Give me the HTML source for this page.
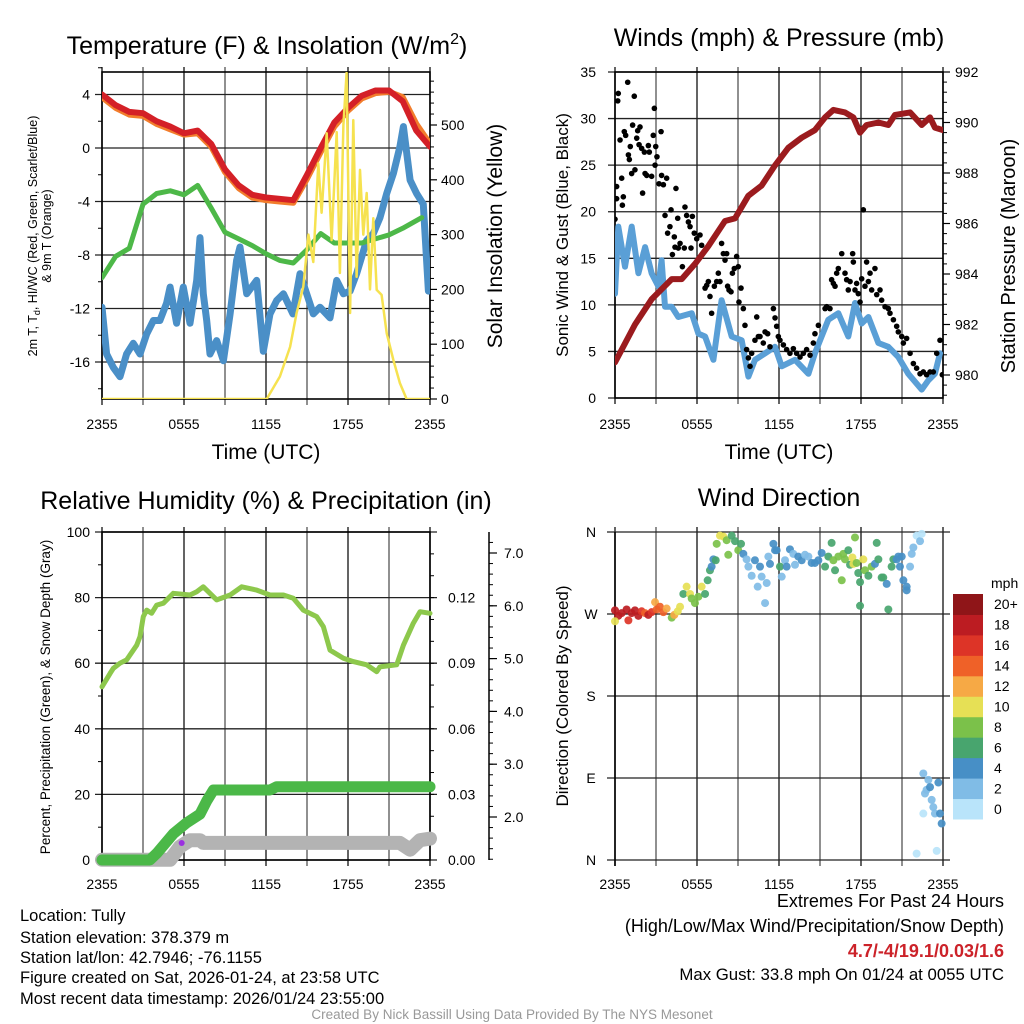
<!DOCTYPE html>
<html><head><meta charset="utf-8"><style>
body{margin:0;background:#fff;}
svg{display:block;font-family:"Liberation Sans",sans-serif;}
</style></head><body>
<svg id="c" width="1024" height="1024" viewBox="0 0 1024 1024">
<defs>
<clipPath id="cp1"><rect x="102" y="72" width="328" height="327"/></clipPath>
<clipPath id="cp2"><rect x="615" y="72" width="328" height="326"/></clipPath>
<clipPath id="cp3"><rect x="92" y="522" width="348" height="348"/></clipPath>
</defs>
<text x="267" y="54" font-size="25" text-anchor="middle">Temperature (F) &amp; Insolation (W/m<tspan font-size="16" dy="-10">2</tspan><tspan dy="10">)</tspan></text>
<text x="779" y="46" font-size="25" text-anchor="middle">Winds (mph) &amp; Pressure (mb)</text>
<text x="266" y="509" font-size="25" text-anchor="middle">Relative Humidity (%) &amp; Precipitation (in)</text>
<text x="779" y="506" font-size="25" text-anchor="middle">Wind Direction</text>
<text x="266" y="459" font-size="21" text-anchor="middle">Time (UTC)</text>
<text x="779" y="459" font-size="21" text-anchor="middle">Time (UTC)</text>
<g transform="translate(37,236) rotate(-90)"><text x="0" y="0" font-size="12.5" text-anchor="middle">2m T, T<tspan font-size="9" dy="3">d</tspan><tspan dy="-3">, HI/WC (Red, Green, Scarlet/Blue)</tspan></text><text x="0" y="14" font-size="12.5" text-anchor="middle">&amp; 9m T (Orange)</text></g>
<text transform="translate(502,236) rotate(-90)" font-size="21" text-anchor="middle">Solar Insolation (Yellow)</text>
<text transform="translate(568,235) rotate(-90)" font-size="17" text-anchor="middle">Sonic Wind &amp; Gust (Blue, Black)</text>
<text transform="translate(1015,256) rotate(-90)" font-size="20" text-anchor="middle">Station Pressure (Maroon)</text>
<text transform="translate(50,697) rotate(-90)" font-size="13.5" text-anchor="middle">Percent, Precipitation (Green), &amp; Snow Depth (Gray)</text>
<text transform="translate(568,696) rotate(-90)" font-size="17" text-anchor="middle">Direction (Colored By Speed)</text>
<g font-size="16.5">
<text x="20" y="921">Location: Tully</text>
<text x="20" y="943">Station elevation: 378.379 m</text>
<text x="20" y="963">Station lat/lon: 42.7946; -76.1155</text>
<text x="20" y="983">Figure created on Sat, 2026-01-24, at 23:58 UTC</text>
<text x="20" y="1004">Most recent data timestamp: 2026/01/24 23:55:00</text>
</g>
<g font-size="18" text-anchor="end">
<text x="1004" y="907">Extremes For Past 24 Hours</text>
<text x="1004" y="932">(High/Low/Max Wind/Precipitation/Snow Depth)</text>
<text x="1004" y="957" fill="#cc2229" font-weight="bold">4.7/-4/19.1/0.03/1.6</text>
<text x="1004" y="980" font-size="16.8">Max Gust: 33.8 mph On 01/24 at 0055 UTC</text>
</g>
<text x="512" y="1019" font-size="13.5" fill="#999" text-anchor="middle">Created By Nick Bassill Using Data Provided By The NYS Mesonet</text>
<g id="g"></g>
</svg>
<script>
// ---- data (time in hours since 2355) ----
const xTickLabels = ["2355","0555","1155","1755","2355"];
const tempTicks = [4,0,-4,-8,-12,-16];
const solarTicks = [0,100,200,300,400,500];
const tT = [0,1,2,3,4,5,6,7,8,9,10,11,12,13,14,15,16,17,18,19,20,21,22,23,24];
const airT = [4.0,3.2,2.7,2.6,2.0,1.6,1.1,1.3,0.3,-1.6,-2.8,-3.5,-3.7,-3.8,-3.9,-2.0,0.0,1.9,3.0,3.9,4.3,4.3,3.5,1.3,0.1];
const t9m = [3.8,3.0,2.5,2.4,1.8,1.4,1.0,1.1,0.1,-1.8,-3.0,-3.7,-3.9,-4.0,-4.1,-2.3,-0.3,1.6,2.8,3.7,4.1,4.2,3.8,1.8,0.3];
const tD = [0,1,2,3,4,5,6,7,8,9,10,11,12,13,14,15,16,17,18,19,20,21,22,23.4];
const dewT = [-9.7,-8.1,-7.5,-4.2,-3.4,-3.2,-3.5,-2.8,-4.5,-6.3,-6.8,-7.3,-7.9,-8.4,-8.6,-7.6,-6.4,-7.1,-7.1,-7.1,-6.8,-6.5,-6.0,-5.2];
const tWC = [0,0.34,0.83,1.32,1.8,2.29,2.78,3.27,3.76,4.24,4.73,4.98,5.46,5.95,6.44,6.93,7.17,7.41,7.66,7.9,8.39,8.88,9.37,9.85,10.1,10.59,11.32,11.8,12.29,12.78,13.27,13.97,14.49,14.98,15.46,15.95,16.68,17.17,17.66,18.15,18.63,19.37,19.85,20.34,20.83,21.32,21.8,22.05,22.54,23.02,23.51,23.88];
const windChill = [-11.9,-15.4,-16.4,-17.1,-15.4,-14.6,-15.4,-13.9,-12.9,-12.9,-11.6,-10.4,-13.1,-10.4,-13.1,-9.9,-6.7,-10.9,-12.9,-15.4,-14.4,-15.9,-12.4,-8.4,-7.4,-10.9,-9.9,-15.2,-12.4,-11.4,-10.9,-12.4,-9.4,-10.9,-12.4,-11.9,-12.7,-9.9,-10.9,-10.7,-9.4,-6.9,-6.4,-5.2,-3.4,-1.9,0.1,1.6,-2.4,-3.4,-4.2,-10.7];
const tSol = [0,12.05,13.02,13.76,14.24,14.73,15.1,15.46,15.83,16.07,16.44,16.8,17.17,17.41,17.66,17.9,18.15,18.39,18.63,18.88,19.12,19.37,19.61,19.85,20.1,20.46,20.83,21.32,21.8,22.29,24];
const solar = [0,0,41,95,157,205,300,250,430,340,485,290,487,230,500,595,157,509,223,418,300,376,200,330,199,190,120,71,29,0,0];

const windTicks = [0,5,10,15,20,25,30,35];
const presTicks = [980,982,984,986,988,990,992];
const tWind = [0,0.24,0.73,1.22,1.71,2.2,2.68,3.17,3.41,3.66,4.15,4.63,5.61,6.1,6.59,7.2,7.8,8.54,9.27,9.76,10.24,10.98,11.71,12.2,13.17,14.15,14.63,15.61,16.34,17.07,17.56,18.05,18.54,19.27,20,20.73,21.46,22.44,22.93,23.41,23.78];
const wind = [11.2,18.4,14.1,18.4,13.4,16.2,13.4,12.0,14.8,9.8,9.8,8.7,9.1,6.9,6.6,4.1,10.5,6.6,6.2,2.3,4.1,4.8,5.5,3.4,4.1,2.6,4.8,8.4,9.1,6.6,10.2,8.0,8.7,5.9,5.5,4.4,2.6,0.9,1.9,2.6,4.8];
const tGust = [0,0.12,0.12,0.2,0.24,0.37,0.49,0.54,0.61,0.68,0.78,0.93,0.98,1.05,1.12,1.22,1.29,1.41,1.46,1.59,1.66,1.76,1.83,1.95,2.02,2.15,2.2,2.32,2.44,2.51,2.68,2.8,2.88,2.93,2.98,3.07,3.22,3.37,3.41,3.54,3.66,3.78,3.85,4.02,4.1,4.2,4.34,4.39,4.46,4.59,4.63,4.76,4.93,5.07,5.12,5.24,5.37,5.49,5.56,5.66,5.8,5.98,6.22,6.34,6.59,6.71,6.83,6.95,7.07,7.27,7.44,7.56,7.68,7.8,7.93,8.05,8.17,8.24,8.34,8.49,8.59,8.73,8.9,9.02,9.07,9.22,9.39,9.51,9.63,9.76,9.88,10.0,10.24,10.37,10.49,10.61,10.85,10.98,11.17,11.34,11.59,11.71,11.83,11.95,12.07,12.32,12.56,12.8,13.05,13.29,13.54,13.78,14.02,14.27,14.51,14.63,14.88,15.37,15.49,15.73,15.85,15.98,16.1,16.22,16.34,16.59,16.83,16.95,17.07,17.2,17.39,17.44,17.56,17.68,17.8,17.93,18.05,18.17,18.29,18.41,18.54,18.66,18.78,19.02,19.15,19.39,19.51,19.76,20.0,20.12,20.37,20.61,20.73,20.98,21.1,21.34,21.59,21.83,22.07,22.32,22.56,22.8,23.05,23.29,23.54,23.78,23.95];
const gust = [19.2,21.4,22.7,31.9,32.7,27.7,23.6,20.7,21.6,28.6,28.2,33.9,26.1,25.6,27.0,24.1,29.3,32.4,24.5,27.9,28.7,27.2,29.1,26.8,22.0,26.4,24.1,23.9,27.1,26.4,23.8,28.2,31.1,25.0,27.0,25.9,23.0,28.6,23.9,22.9,19.6,23.6,17.7,18.4,20.2,15.4,17.3,16.2,22.5,19.3,16.1,16.6,14.1,16.1,20.5,19.6,18.9,18.4,16.1,19.5,17.7,17.1,17.5,16.4,11.8,12.1,12.5,10.9,9.1,12.0,12.5,13.4,12.5,16.6,15.5,14.8,15.5,12.0,11.6,11.4,13.4,13.9,15.2,14.1,10.3,11.8,9.6,7.8,5.2,4.3,3.4,4.8,6.2,8.7,6.6,6.6,5.9,7.1,6.9,5.5,9.6,8.6,7.7,6.6,6.2,5.7,5.2,4.8,5.3,4.8,4.4,4.8,5.2,4.6,5.9,6.9,7.8,9.6,9.8,9.6,12.7,12.3,12.0,13.4,13.9,15.5,13.4,12.7,11.6,12.5,15.5,14.6,11.6,12.3,11.2,10.3,12.8,20.2,12.0,14.6,12.5,13.4,11.6,13.9,11.1,11.6,10.5,9.8,9.6,9.1,8.4,7.7,7.1,6.6,5.9,6.4,4.8,3.7,3.2,2.6,2.8,2.5,2.8,2.8,4.8,6.2,2.5];
const tPres = [0,1.46,2.68,4.15,4.88,5.85,6.83,8.05,8.78,9.76,10.73,11.71,12.68,13.66,14.63,15.37,15.98,16.83,17.44,17.93,18.41,19.27,20,20.49,21.59,22.44,23.05,23.41,24];
const pressure = [980.5,982.0,983.0,983.8,983.8,984.4,985.1,986.1,986.2,987.1,987.5,988.3,989.0,989.4,989.7,990.2,990.5,990.4,990.2,989.6,989.9,990.0,989.9,990.3,990.4,989.9,990.2,989.8,989.7];

const rhTicks = [0,20,40,60,80,100];
const precipTicks = ["0.00","0.03","0.06","0.09","0.12"];
const snowTicks = ["2.0","3.0","4.0","5.0","6.0","7.0"];
const tRH = [0,0.59,0.83,1.32,1.8,2.54,2.78,3.02,3.27,3.63,4.0,4.49,5.22,6.44,6.93,7.41,8.39,9.37,10.22,11.32,12.29,13.27,14.0,14.73,15.71,16.2,16.68,17.66,18.39,19.37,20.1,20.34,21.56,22.05,22.78,23.27,24];
const rh = [52.8,56.9,58.4,60.0,61.0,65.5,68.1,74.2,76.2,75.2,77.7,78.3,81.3,80.8,81.8,83.3,79.3,80.8,83.3,82.3,80.8,80.8,79.8,76.2,74.2,71.1,64.0,61.5,60.5,59.5,57.4,58.9,59.5,65.5,72.2,75.7,75.2];
const tPrecip = [0,3.5,4.0,5.22,6.2,7.17,7.66,8.15,12.29,12.78,24];
const precip = [0,0,0.003,0.012,0.017,0.021,0.027,0.032,0.032,0.0335,0.0335];
const tSnow = [0,4.98,5.71,6.44,7.17,7.41,21.8,22.54,23.27,24];
const snow = [1.19,1.19,1.44,1.56,1.56,1.51,1.51,1.38,1.56,1.59];

const dirLabels = ["N","E","S","W","N"];
const speedLabels = ["0","2","4","6","8","10","12","14","16","18","20+"];
const speedColors = ["#b9e4fa","#80bce6","#478fc6","#48a56e","#7bc14a","#e6e055","#f6a945","#ef6128","#dd3427","#bc1c22","#8f1518"];
const tDir = [0,0.24,0.49,0.85,0.98,1.22,1.46,1.71,1.95,2.2,2.44,2.68,0,2.93,3.05,3.29,3.54,3.78,4.15,4.34,4.59,4.76,5.0,5.24,5.49,5.61,5.85,6.1,6.34,6.59,6.78,6.95,7.07,7.2,7.37,7.44,7.68,7.93,8.17,8.29,8.54,8.78,9.02,9.22,9.39,9.63,9.76,10.0,10.24,10.44,10.61,10.73,10.98,11.1,11.22,11.34,11.59,11.71,11.83,12.07,12.2,12.44,12.56,12.8,13.05,13.17,13.41,13.66,13.9,14.15,14.39,14.63,14.88,15.12,15.37,15.61,15.85,15.98,16.1,16.34,16.59,16.71,16.83,17.07,17.2,17.37,17.44,17.56,17.68,17.8,17.93,17.93,18.17,18.29,18.54,18.78,19.02,19.15,19.27,19.51,19.63,19.88,20.0,20.24,20.37,20.61,20.73,20.85,20.98,21.1,21.34,21.34,21.59,21.71,21.83,22.07,22.32,22.44,22.56,22.93,22.68,22.8,23.05,23.66,23.17,23.29,23.41,22.56,23.78,23.9,22.07,23.54];
const dirDeg = [274,268,271,275,263,271,274,268,273,271,269,272,262,283,275,278,272,276,266,269,273,278,292,300,292,287,282,289,300,292,307,318,322,330,329,347,356,355,351,335,356,350,340,347,336,330,322,312,329,300,322,311,282,304,333,325,347,340,340,322,311,329,322,341,336,324,333,329,335,333,326,326,329,337,322,333,348,329,318,333,307,336,330,340,324,332,325,354,326,315,305,279,330,318,312,322,325,348,330,310,310,303,275,322,330,330,333,322,333,307,300,296,322,336,343,356,350,358,95,88,73,77,80,85,66,58,51,51,51,40,7,10];
const dirSpeed = [18,18,19,18,16,18,19,18,16,14,18,16,10,12,14,14,14,12,8,12,10,10,6,10,10,8,8,8,10,6,6,6,4,4,6,8,10,10,8,8,6,6,8,6,4,2,2,2,4,2,4,2,2,2,2,4,4,4,4,6,2,2,4,4,2,2,4,4,2,2,4,4,4,4,6,6,6,8,6,8,8,8,8,6,6,10,10,8,8,6,6,6,10,8,6,8,4,6,6,6,6,4,6,6,6,4,4,4,4,4,4,4,2,2,2,0,2,0,2,2,2,2,4,4,2,2,2,0,4,4,0,0];

// ---- scales ----
const xA = t => 102 + t*13.667;
const xB = t => 615 + t*13.667;
const yTemp = v => 148 - v*13.375;
const ySol = v => 399 - v*0.548;
const yWind = v => 398 - v*9.314;
const yPres = p => 72 + (992-p)*25.25;
const yRH = v => 860 - v*3.28;
const yPrecip = p => 860 - p*2186.7;
const ySnow = s => 817 + (2-s)*52.8;
const yDir = d => 860 - d*0.9111;

const NS="http://www.w3.org/2000/svg";
const root=document.getElementById('g');
function mk(tag,attrs,parent){const e=document.createElementNS(NS,tag);for(const k in attrs)e.setAttribute(k,attrs[k]);(parent||root).appendChild(e);return e;}
function txt(x,y,s,size,anchor,parent){const e=mk('text',{x:x,y:y,'font-size':size,'text-anchor':anchor},parent);e.textContent=s;return e;}
function pathD(ts,vs,xf,yf){return ts.map((t,i)=>(i?'L':'M')+xf(t).toFixed(1)+','+yf(vs[i]).toFixed(1)).join('');}
function line(x1,y1,x2,y2,w,c,parent){return mk('line',{x1:x1,y1:y1,x2:x2,y2:y2,stroke:c||'#000','stroke-width':w||1.2},parent);}

function frame(x0,x1,y0,y1,name){
  const g=mk('g',{});
  
  
  for(let k=0;k<=8;k++){const x=x0+(x1-x0)*k/8;line(x,y0-5,x,y1+6,1.3,k%2?'#555':'#111',g);}
  return g;
}

// ===== Panel 1 =====
const g1=frame(102,430,72,399,'temp-grid');
tempTicks.forEach(v=>{line(95,yTemp(v),430,yTemp(v),1.3,'#222',g1);const t=txt(90,yTemp(v)+5,String(v),14,'end',g1);});
for(let v=-18;v<=6;v+=2){if(v%4)line(98,yTemp(v),102,yTemp(v),1,'#000',g1);}
solarTicks.forEach(v=>{line(430,ySol(v),437,ySol(v),1.2,'#000',g1);const t=txt(441,ySol(v)+5,String(v),14,'start',g1);});
for(let v=20;v<600;v+=20){if(v%100)line(430,ySol(v),434,ySol(v),1,'#000',g1);}
mk('rect',{x:102,y:72,width:328,height:327,fill:'none',stroke:'#000','stroke-width':1.6},g1);
xTickLabels.forEach((s,i)=>{const t=txt(102+i*82,429,s,14,'middle',g1);});
const c1=mk('g',{'clip-path':'url(#cp1)','stroke-linejoin':'round','stroke-linecap':'round',fill:'none'});
let p;
p=mk('path',{d:pathD(tWC,windChill,xA,yTemp),stroke:'#4a8fc7','stroke-width':7},c1);


p=mk('path',{d:pathD(tD,dewT,xA,yTemp),stroke:'#4db848','stroke-width':5},c1);


p=mk('path',{d:pathD(tT,t9m,xA,yTemp),stroke:'#f27d2c','stroke-width':6},c1);


p=mk('path',{d:pathD(tT,airT,xA,yTemp),stroke:'#d42027','stroke-width':6},c1);


p=mk('path',{d:pathD(tSol,solar,xA,ySol),stroke:'#f6e250','stroke-width':2.5},c1);



// ===== Panel 2 =====
const g2=frame(615,943,72,398,'wind-grid');
windTicks.forEach(v=>{line(608,yWind(v),943,yWind(v),1.3,'#222',g2);const t=txt(596,yWind(v)+5,String(v),14,'end',g2);});
presTicks.forEach(v=>{line(943,yPres(v),950,yPres(v),1.2,'#000',g2);const t=txt(955,yPres(v)+5,String(v),14,'start',g2);});
for(let v=979.2;v<992;v+=0.4){line(943,yPres(v),947,yPres(v),1,'#000',g2);}
mk('rect',{x:615,y:72,width:328,height:326,fill:'none',stroke:'#000','stroke-width':1.6},g2);
xTickLabels.forEach((s,i)=>{const t=txt(615+i*82,429,s,14,'middle',g2);});
const c2=mk('g',{'clip-path':'url(#cp2)','stroke-linejoin':'round','stroke-linecap':'round',fill:'none'});
p=mk('path',{d:pathD(tWind,wind,xB,yWind),stroke:'#5a9fd6','stroke-width':6},c2);


tGust.forEach((t,i)=>{const d=mk('circle',{cx:xB(t),cy:yWind(gust[i]),r:2.8,fill:'#000'},c2);

});
p=mk('path',{d:pathD(tPres,pressure,xB,yPres),stroke:'#9b1b1e','stroke-width':6},c2);



// ===== Panel 3 =====
const g3=frame(102,430,532,860,'rh-grid');
rhTicks.forEach(v=>{line(95,yRH(v),437,yRH(v),1.3,'#222',g3);const t=txt(90,yRH(v)+5,String(v),14,'end',g3);});
for(let v=10;v<100;v+=20)line(98,yRH(v),102,yRH(v),1,'#000',g3);
precipTicks.forEach(s=>{const t=txt(448,yPrecip(+s)+5,s,14,'start',g3);});
for(let v=0.01;v<0.15;v+=0.01)line(430,yPrecip(v),434,yPrecip(v),1,'#000',g3);
line(489,532,489,860,1.5,'#000',g3);
snowTicks.forEach(s=>{line(489,ySnow(+s),497,ySnow(+s),1.2,'#000',g3);const t=txt(504,ySnow(+s)+5,s,14,'start',g3);});
for(let v=1.2;v<7.4;v+=0.2)line(489,ySnow(v),493,ySnow(v),1,'#000',g3);
mk('rect',{x:102,y:532,width:328,height:328,fill:'none',stroke:'#000','stroke-width':1.6},g3);
xTickLabels.forEach((s,i)=>{const t=txt(102+i*82,889,s,14,'middle',g3);});
const c3=mk('g',{'clip-path':'url(#cp3)','stroke-linejoin':'round','stroke-linecap':'round',fill:'none'});
p=mk('path',{d:pathD(tSnow,snow,xA,ySnow),stroke:'#b3b3b3','stroke-width':14},c3);


p=mk('path',{d:pathD(tPrecip,precip,xA,yPrecip),stroke:'#4bb848','stroke-width':11},c3);


p=mk('path',{d:pathD(tRH,rh,xA,yRH),stroke:'#8dc84c','stroke-width':5},c3);


p=mk('circle',{cx:xA(5.83),cy:843,r:3,fill:'#9b30e0'},c3);



// ===== Panel 4 =====
const g4=frame(615,943,532,860,'direction-grid');
dirLabels.forEach((s,i)=>{line(607,yDir(i*90),950,yDir(i*90),1.3,'#222',g4);const t=txt(591,yDir(i*90)+5,s,14,'middle',g4);});
line(615,532,615,866,1.6,'#000',g4);
xTickLabels.forEach((s,i)=>{const t=txt(615+i*82,889,s,14,'middle',g4);});
tDir.forEach((t,i)=>{const ci=Math.min(10,Math.floor(dirSpeed[i]/2));const d=mk('circle',{cx:xB(t),cy:yDir(dirDeg[i]),r:4,fill:speedColors[ci],'fill-opacity':0.92});

});
// colorbar
const cb=mk('g',{});


const cbTop=594, cbH=225/11;
speedLabels.forEach((s,i)=>{const k=10-i;mk('rect',{x:953,y:cbTop+k*cbH,width:30,height:cbH+0.5,fill:speedColors[i]},cb);const t=txt(994,cbTop+k*cbH+cbH/2+5,s,14,'start',cb);});
const u=txt(991,588,'mph',14,'start',cb);


</script>
</body></html>
